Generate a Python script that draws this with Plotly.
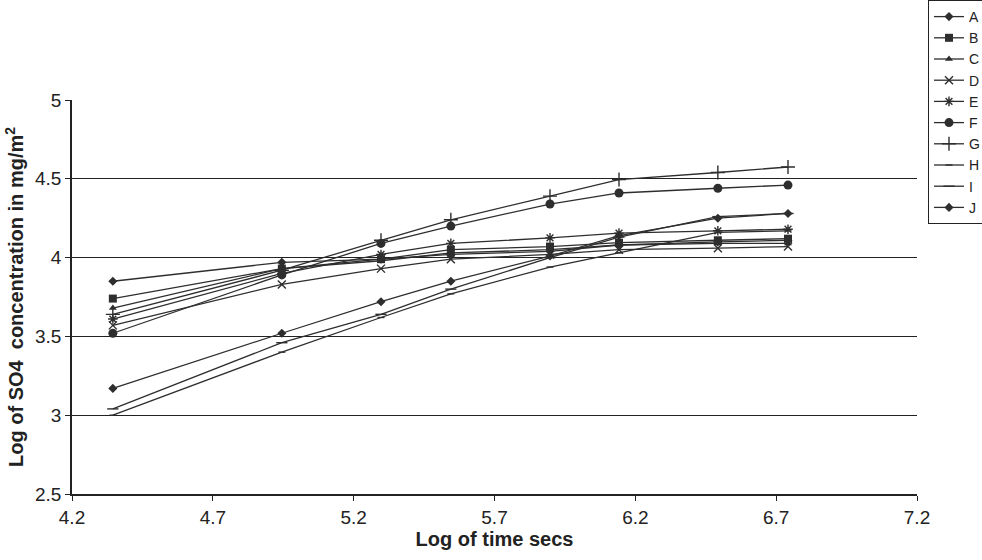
import plotly.graph_objects as go

log_time = [4.345, 4.945, 5.297, 5.545, 5.897, 6.142, 6.493, 6.742]

series_names = ["A", "B", "C", "D", "E", "F", "G", "H", "I", "J"]
A = [3.17, 3.52, 3.72, 3.85, 4.01, 4.14, 4.25, 4.28]
B = [3.74, 3.93, 3.99, 4.05, 4.07, 4.095, 4.11, 4.12]
C = [3.68, 3.93, 3.98, 4.03, 4.05, 4.08, 4.09, 4.09]
D = [3.57, 3.83, 3.93, 3.99, 4.02, 4.05, 4.06, 4.07]
E = [3.61, 3.90, 4.02, 4.09, 4.125, 4.155, 4.17, 4.18]
F = [3.52, 3.89, 4.09, 4.20, 4.34, 4.41, 4.44, 4.46]
G = [3.64, 3.92, 4.11, 4.24, 4.39, 4.495, 4.54, 4.575]
H = [3.00, 3.40, 3.62, 3.77, 3.94, 4.03, 4.16, 4.17]
I = [3.04, 3.46, 3.64, 3.80, 4.00, 4.13, 4.26, 4.28]
J = [3.85, 3.97, 3.99, 4.02, 4.04, 4.08, 4.10, 4.11]
values = [A, B, C, D, E, F, G, H, I, J]

symbols = ["diamond", "square", "triangle-up", "x-thin-open", "asterisk-open",
           "circle", "cross-thin-open", "line-ew-open", "line-ew-open", "diamond"]
sizes = [7, 8, 7, 8, 8, 9, 10, 5, 8, 7]

fig = go.Figure()
ink = "#2e2e2e"
for name, ys, sym, sz in zip(series_names, values, symbols, sizes):
    fig.add_trace(go.Scatter(
        x=log_time, y=ys, name=name, mode="lines+markers",
        line=dict(color=ink, width=1.3),
        marker=dict(symbol=sym, size=sz, color=ink,
                    line=dict(color=ink, width=1.4 if "open" in sym else 0)),
    ))

font = "Liberation Sans, Arial, sans-serif"
fig.update_layout(
    width=982, height=560,
    margin=dict(l=72, r=65, t=100, b=66, autoexpand=False),
    plot_bgcolor="white", paper_bgcolor="white",
    font=dict(family=font, size=18, color="#222"),
    showlegend=True,
    legend=dict(xref="container", yref="container", x=0.945, y=1.0,
                xanchor="left", yanchor="top",
                bordercolor="#222", borderwidth=1, bgcolor="white",
                font=dict(size=14), tracegroupgap=0, itemwidth=30),
    xaxis=dict(range=[4.2, 7.2], tickvals=[4.2, 4.7, 5.2, 5.7, 6.2, 6.7, 7.2],
               ticktext=["4.2", "4.7", "5.2", "5.7", "6.2", "6.7", "7.2"],
               tickfont=dict(size=19),
               showgrid=False, zeroline=False, showline=True, linecolor="#222",
               linewidth=1.5, ticks="outside", ticklen=5, tickcolor="#222",
               title=dict(text="<b>Log of time secs</b>", font=dict(size=20), standoff=4)),
    yaxis=dict(range=[2.5, 5], tickvals=[2.5, 3, 3.5, 4, 4.5, 5],
               ticktext=["2.5", "3", "3.5", "4", "4.5", "5"],
               tickfont=dict(size=19),
               showgrid=True, gridcolor="#222", gridwidth=1.2, zeroline=False,
               showline=True, linecolor="#222", linewidth=1.5,
               ticks="outside", ticklen=5, tickcolor="#222",
               title=dict(text="<b>Log of SO4  concentration in mg/m<sup>2</sup></b>",
                          font=dict(size=20), standoff=6)),
)
fig.write_html("out.html")
